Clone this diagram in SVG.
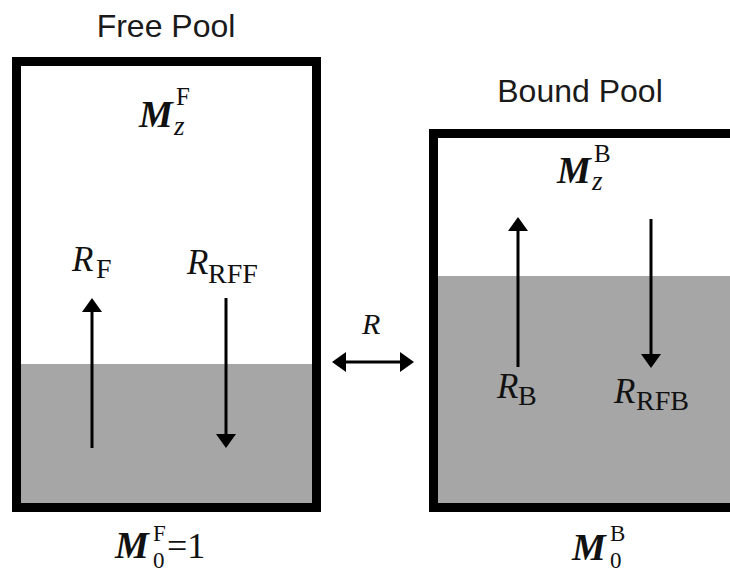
<svg xmlns="http://www.w3.org/2000/svg" width="730" height="575" viewBox="0 0 730 575">
<style>
.box{fill:#ffffff;stroke:#000000;stroke-width:9}
.fill{fill:#a6a6a6;stroke:none}
.title{font-family:"Liberation Sans",Arial,sans-serif;font-size:32px;fill:#1a1a1a}
.mi{font-family:"Liberation Serif","Times New Roman",serif;font-style:italic;font-size:35px;fill:#111}
.mb{font-family:"Liberation Serif","Times New Roman",serif;font-style:italic;font-weight:bold;font-size:38px;fill:#111}
.sub{font-family:"Liberation Serif","Times New Roman",serif;font-size:28px;fill:#111}
.sup{font-family:"Liberation Serif","Times New Roman",serif;font-size:25px;fill:#111}
.sm{font-family:"Liberation Serif","Times New Roman",serif;font-size:23px;fill:#111}
.subi{font-family:"Liberation Serif","Times New Roman",serif;font-style:italic;font-size:27px;fill:#111}
.num{font-family:"Liberation Serif","Times New Roman",serif;font-size:36px;fill:#111}
.arr{stroke:#000;stroke-width:3;fill:none}
</style>
<defs>
<marker id="head" markerUnits="userSpaceOnUse" markerWidth="14" markerHeight="20" refX="0" refY="10" orient="auto-start-reverse" viewBox="0 0 14 20">
<path d="M0,0 L14,10 L0,20 Z" fill="#000"/>
</marker>
</defs>
<rect width="730" height="575" fill="#ffffff"/>
<g id="free-pool">
<text class="title" x="166" y="37" text-anchor="middle">Free Pool</text>
<rect class="box" x="16.5" y="61.5" width="300" height="446"/>
<rect class="fill" x="21" y="364" width="291" height="139"/>
<text class="mb" x="139" y="127">M</text>
<text class="sup" x="176" y="105">F</text>
<text class="subi" x="174" y="135">z</text>
<text class="mi" x="72" y="271">R</text>
<text class="sub" x="96" y="278">F</text>
<text class="mi" x="187" y="274">R</text>
<text class="sub" x="208" y="283">RFF</text>
<text class="mb" x="115" y="558">M</text>
<text class="sm" x="153" y="541">F</text>
<text class="sm" x="153" y="568">0</text>
<text class="num" x="167" y="558">=1</text>
</g>
<g id="bound-pool">
<text class="title" x="580" y="102" text-anchor="middle">Bound Pool</text>
<rect class="box" x="433.5" y="133.5" width="320" height="374"/>
<rect class="fill" x="438" y="276" width="300" height="227"/>
<text class="mb" x="557" y="183">M</text>
<text class="sup" x="594" y="162">B</text>
<text class="subi" x="592" y="190">z</text>
<text class="mi" x="497" y="398">R</text>
<text class="sub" x="518" y="405">B</text>
<text class="mi" x="614" y="403">R</text>
<text class="sub" x="636" y="410">RFB</text>
<text class="mb" x="572" y="560">M</text>
<text class="sm" x="610" y="541">B</text>
<text class="sm" x="610" y="568">0</text>
</g>
<g id="exchange">
<text class="mi" x="362" y="334" style="font-size:30px">R</text>
</g>
<g id="connectors">
<line class="arr" x1="92" y1="448" x2="92" y2="312" marker-end="url(#head)"/>
<line class="arr" x1="226" y1="298" x2="226" y2="434" marker-end="url(#head)"/>
<line class="arr" x1="518" y1="367" x2="518" y2="231" marker-end="url(#head)"/>
<line class="arr" x1="651" y1="219" x2="651" y2="354" marker-end="url(#head)"/>
<line class="arr" x1="346" y1="362" x2="400" y2="362" marker-start="url(#head)" marker-end="url(#head)"/>
</g>
</svg>
